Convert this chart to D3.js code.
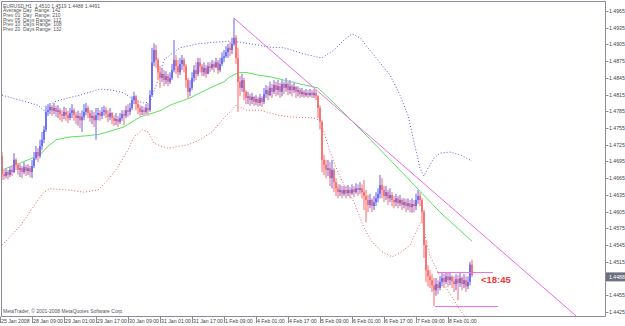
<!DOCTYPE html>
<html><head><meta charset="utf-8">
<script src="https://cdn.jsdelivr.net/npm/d3@7/dist/d3.min.js"></script>
<style>body{margin:0;background:#fff}svg{display:block}text{font-family:"Liberation Sans",Arial,sans-serif;white-space:pre}</style>
</head><body><svg id="c" width="625" height="326"></svg>
<script>
// ---------------- DATA ----------------
const symbolHeader = "EURUSD,H1  1.4510 1.4519 1.4488 1.4491";
const infoLines = ["Average Day  Range: 142","Prev 01  Day  Range: 210","Prev 05  Days Range: 112","Prev 10  Days Range: 108","Prev 20  Days Range: 132"];
const copyright = "MetaTrader, \u00A9 2001-2008 MetaQuotes Software Corp.";
const firstOpen = 1.4705;
const closes = [
1.4672,1.4669,1.4676,1.4671,1.4680,1.4676,1.4698,1.4689,1.4680,1.4683,
1.4676,1.4685,1.4678,1.4683,1.4676,1.4687,1.4701,1.4712,1.4705,1.4723,
1.4734,1.4752,1.4784,1.4787,1.4793,1.4786,1.4791,1.4784,1.4787,1.4780,
1.4777,1.4784,1.4778,1.4773,1.4782,1.4787,1.4778,1.4773,1.4777,1.4769,
1.4775,1.4784,1.4791,1.4782,1.4773,1.4777,1.4769,1.4778,1.4782,1.4777,
1.4784,1.4787,1.4780,1.4775,1.4782,1.4773,1.4768,1.4771,1.4766,1.4773,
1.4780,1.4777,1.4787,1.4784,1.4791,1.4805,1.4812,1.4798,1.4791,1.4784,
1.4787,1.4784,1.4791,1.4787,1.4814,1.4873,1.4895,1.4877,1.4855,1.4845,
1.4852,1.4841,1.4848,1.4838,1.4845,1.4859,1.4877,1.4866,1.4855,1.4870,
1.4877,1.4866,1.4841,1.4820,1.4827,1.4845,1.4859,1.4852,1.4873,1.4866,
1.4855,1.4863,1.4852,1.4866,1.4863,1.4870,1.4864,1.4873,1.4859,1.4870,
1.4881,1.4884,1.4891,1.4899,1.4895,1.4906,1.4917,1.4881,1.4838,1.4827,
1.4841,1.4820,1.4809,1.4812,1.4805,1.4811,1.4802,1.4807,1.4800,1.4809,
1.4802,1.4816,1.4823,1.4814,1.4827,1.4820,1.4832,1.4823,1.4830,1.4820,
1.4834,1.4827,1.4834,1.4823,1.4830,1.4823,1.4829,1.4820,1.4823,1.4816,
1.4820,1.4814,1.4818,1.4814,1.4818,1.4814,1.4818,1.4812,1.4791,1.4766,
1.4698,1.4689,1.4680,1.4683,1.4665,1.4680,1.4658,1.4647,1.4640,1.4644,
1.4637,1.4644,1.4638,1.4644,1.4638,1.4645,1.4640,1.4647,1.4644,1.4647,
1.4640,1.4633,1.4626,1.4617,1.4626,1.4615,1.4622,1.4629,1.4637,1.4653,
1.4644,1.4633,1.4640,1.4629,1.4635,1.4626,1.4622,1.4629,1.4620,1.4626,
1.4617,1.4622,1.4615,1.4620,1.4613,1.4619,1.4615,1.4626,1.4633,1.4626,
1.4604,1.4545,1.4500,1.4489,1.4482,1.4473,1.4464,1.4475,1.4468,1.4479,
1.4486,1.4479,1.4489,1.4482,1.4488,1.4480,1.4475,1.4484,1.4477,1.4486,
1.4475,1.4482,1.4471,1.4479,1.4510,1.4491];
const highs = [
1.4712,1.4680,1.4683,1.4680,1.4687,1.4689,1.4710,1.4701,1.4692,1.4690,
1.4687,1.4694,1.4689,1.4690,1.4687,1.4698,1.4712,1.4723,1.4719,1.4734,
1.4748,1.4759,1.4795,1.4798,1.4800,1.4796,1.4800,1.4795,1.4796,1.4791,
1.4787,1.4793,1.4791,1.4786,1.4791,1.4798,1.4791,1.4784,1.4786,1.4782,
1.4787,1.4798,1.4800,1.4795,1.4787,1.4787,1.4784,1.4791,1.4791,1.4787,
1.4793,1.4795,1.4793,1.4787,1.4791,1.4784,1.4778,1.4782,1.4777,1.4782,
1.4787,1.4787,1.4795,1.4798,1.4800,1.4812,1.4820,1.4814,1.4805,1.4796,
1.4795,1.4793,1.4798,1.4800,1.4823,1.4899,1.4907,1.4904,1.4881,1.4866,
1.4863,1.4859,1.4857,1.4852,1.4855,1.4870,1.4913,1.4886,1.4877,1.4881,
1.4886,1.4881,1.4870,1.4845,1.4841,1.4855,1.4868,1.4873,1.4881,1.4881,
1.4870,1.4873,1.4868,1.4873,1.4873,1.4877,1.4875,1.4881,1.4877,1.4881,
1.4891,1.4895,1.4902,1.4906,1.4909,1.4917,1.4952,1.4922,1.4899,1.4848,
1.4852,1.4845,1.4823,1.4820,1.4816,1.4818,1.4812,1.4814,1.4811,1.4816,
1.4812,1.4827,1.4832,1.4830,1.4838,1.4834,1.4841,1.4838,1.4841,1.4836,
1.4841,1.4838,1.4845,1.4838,1.4841,1.4834,1.4838,1.4830,1.4830,1.4827,
1.4827,1.4823,1.4825,1.4823,1.4825,1.4823,1.4825,1.4823,1.4814,1.4796,
1.4769,1.4707,1.4698,1.4698,1.4694,1.4698,1.4683,1.4665,1.4654,1.4654,
1.4651,1.4651,1.4651,1.4653,1.4649,1.4654,1.4651,1.4656,1.4654,1.4658,
1.4654,1.4662,1.4644,1.4635,1.4637,1.4629,1.4633,1.4640,1.4647,1.4671,
1.4665,1.4651,1.4651,1.4644,1.4647,1.4640,1.4633,1.4637,1.4633,1.4635,
1.4629,1.4629,1.4628,1.4629,1.4626,1.4629,1.4626,1.4637,1.4644,1.4640,
1.4629,1.4608,1.4554,1.4509,1.4500,1.4493,1.4486,1.4486,1.4482,1.4489,
1.4497,1.4493,1.4497,1.4495,1.4497,1.4491,1.4489,1.4493,1.4491,1.4497,
1.4489,1.4493,1.4489,1.4489,1.4515,1.4519];
const lows = [
1.4662,1.4662,1.4665,1.4663,1.4667,1.4669,1.4674,1.4680,1.4671,1.4667,
1.4665,1.4672,1.4669,1.4671,1.4667,1.4665,1.4683,1.4698,1.4694,1.4701,
1.4716,1.4728,1.4748,1.4777,1.4780,1.4777,1.4780,1.4775,1.4773,1.4769,
1.4766,1.4771,1.4768,1.4764,1.4769,1.4773,1.4768,1.4762,1.4759,1.4755,
1.4748,1.4769,1.4778,1.4773,1.4766,1.4762,1.4757,1.4734,1.4769,1.4768,
1.4771,1.4777,1.4773,1.4766,1.4769,1.4762,1.4759,1.4760,1.4757,1.4762,
1.4768,1.4760,1.4773,1.4775,1.4778,1.4787,1.4798,1.4787,1.4780,1.4777,
1.4778,1.4777,1.4780,1.4777,1.4784,1.4811,1.4866,1.4863,1.4841,1.4827,
1.4838,1.4830,1.4834,1.4830,1.4834,1.4841,1.4855,1.4852,1.4845,1.4850,
1.4859,1.4855,1.4827,1.4809,1.4812,1.4823,1.4838,1.4841,1.4848,1.4855,
1.4848,1.4848,1.4845,1.4852,1.4855,1.4859,1.4855,1.4863,1.4852,1.4855,
1.4866,1.4873,1.4881,1.4881,1.4884,1.4888,1.4902,1.4870,1.4784,1.4812,
1.4820,1.4805,1.4798,1.4798,1.4795,1.4798,1.4795,1.4796,1.4793,1.4795,
1.4793,1.4798,1.4809,1.4805,1.4812,1.4809,1.4816,1.4812,1.4814,1.4809,
1.4812,1.4816,1.4820,1.4814,1.4816,1.4812,1.4818,1.4809,1.4812,1.4809,
1.4811,1.4809,1.4811,1.4809,1.4811,1.4809,1.4809,1.4805,1.4773,1.4752,
1.4676,1.4671,1.4665,1.4669,1.4651,1.4647,1.4640,1.4633,1.4629,1.4633,
1.4629,1.4633,1.4629,1.4633,1.4629,1.4635,1.4631,1.4637,1.4633,1.4637,
1.4629,1.4608,1.4586,1.4604,1.4611,1.4604,1.4608,1.4615,1.4622,1.4629,
1.4629,1.4622,1.4626,1.4617,1.4622,1.4615,1.4611,1.4615,1.4611,1.4615,
1.4608,1.4611,1.4604,1.4608,1.4604,1.4603,1.4604,1.4608,1.4619,1.4615,
1.4586,1.4522,1.4479,1.4471,1.4468,1.4461,1.4436,1.4454,1.4457,1.4464,
1.4471,1.4468,1.4475,1.4470,1.4473,1.4468,1.4461,1.4464,1.4446,1.4470,
1.4464,1.4468,1.4461,1.4466,1.4473,1.4488];
const maBars   = [0,9,19,22,27,34,42,49,61,69,79,84,94,104,111,114,118,122,128,134,141,149,158,168,181,194,206,219,235];
const maValues = [1.4680,1.4692,1.4707,1.4719,1.4734,1.4739,1.4741,1.4744,1.4757,1.4775,1.4786,1.4796,1.4809,1.4827,1.4838,1.4847,1.4854,1.4855,1.4850,1.4847,1.4841,1.4834,1.4827,1.4793,1.4746,1.4698,1.4653,1.4604,1.4552];
// upper band (blue dotted)
const upperBars   = [0,9,18,21,23,26,33,39,49,55,61,66,71,74,78,81,84,89,98,106,114,119,128,134,141,149,158,160,166,171,175,179,183,188,194,199,203,206,209,211,213,216,219,224,229,235];
const upperValues = [1.4814,1.4805,1.4796,1.4786,1.4793,1.4802,1.4809,1.4814,1.4825,1.4823,1.4818,1.4805,1.4800,1.4802,1.4841,1.4877,1.4886,1.4899,1.4906,1.4909,1.4911,1.4909,1.4904,1.4900,1.4899,1.4890,1.4882,1.4881,1.4895,1.4913,1.4924,1.4917,1.4899,1.4877,1.4850,1.4814,1.4778,1.4730,1.4683,1.4669,1.4683,1.4701,1.4710,1.4712,1.4707,1.4696];
// lower band (red dotted)
const lowerBars   = [0,9,18,21,24,33,41,48,53,58,63,66,70,73,76,79,83,93,99,105,110,114,117,119,122,129,138,144,156,159,161,164,168,171,176,181,185,190,195,199,204,208,210,212,214,217,221,226,229,232];
const lowerValues = [1.4545,1.4579,1.4626,1.4640,1.4646,1.4644,1.4640,1.4644,1.4662,1.4685,1.4716,1.4739,1.4752,1.4748,1.4728,1.4723,1.4719,1.4725,1.4734,1.4748,1.4769,1.4784,1.4796,1.4793,1.4787,1.4787,1.4778,1.4775,1.4773,1.4769,1.4748,1.4712,1.4676,1.4653,1.4622,1.4576,1.4551,1.4533,1.4524,1.4531,1.4545,1.4576,1.4590,1.4554,1.4525,1.4504,1.4475,1.4446,1.4429,1.4414];
// trend line and horizontal levels [bar, price]
const trendStart = [116, 1.4952];
const trendEnd   = [287, 1.4418];
const levelHigh  = [217.5, 245.5, 1.4497];
const levelLow   = [216.5, 248, 1.4436];
const bidPrice = 1.4488;
const bidLabel = "1.4488";
const countdown = "<18:45";
// axes
const yTickValues = d3.range(19).map(k => +(1.4965 - k*0.003).toFixed(4));
const xLabelBars = [0,16,32,48,64,80,96,112,128,144,160,176,192,208,224];
const xLabels = ["25 Jan 2008","28 Jan 09:00","29 Jan 01:00","29 Jan 17:00","30 Jan 09:00","31 Jan 01:00","31 Jan 17:00","1 Feb 09:00","4 Feb 01:00","4 Feb 17:00","5 Feb 09:00","6 Feb 01:00","6 Feb 17:00","7 Feb 09:00","8 Feb 01:00"];

// ---------------- DRAW ----------------
const svg = d3.select("#c");
const P = {l:1.5, r:605.5, t:1.5, b:316.5};
const x = d3.scaleLinear().domain([0, 100]).range([2, 202]);
const y = d3.scaleLinear().domain([1.4425, 1.4965]).range([312, 11]);

svg.append("rect").attr("width",625).attr("height",326).attr("fill","#fff");
svg.append("defs").append("clipPath").attr("id","clip")
  .append("rect").attr("x",P.l).attr("y",P.t).attr("width",P.r-P.l).attr("height",P.b-P.t);
const g = svg.append("g").attr("clip-path","url(#clip)");

// bands & MA
const lineGen = (bars, vals) => d3.line().x((d,i)=>x(bars[i])).y(d=>y(d))(vals);
g.append("path").attr("d",lineGen(upperBars,upperValues)).attr("fill","none")
  .attr("stroke","#5a5ae0").attr("stroke-width",1).attr("stroke-dasharray","1 2");
g.append("path").attr("d",lineGen(lowerBars,lowerValues)).attr("fill","none")
  .attr("stroke","#f06060").attr("stroke-width",1).attr("stroke-dasharray","1 2");
g.append("path").attr("d",lineGen(maBars,maValues)).attr("fill","none")
  .attr("stroke","#5ee05e").attr("stroke-width",1);

// candles
const bars = closes.map((c,i)=>{
  const o = i ? closes[i-1] : firstOpen;
  return {i, o, c, h: Math.max(highs[i],o,c), l: Math.min(lows[i],o,c)};
});
const cg = g.append("g");
cg.selectAll("rect.w").data(bars).join("rect")
  .attr("x",d=>x(d.i)-0.9).attr("width",1.8)
  .attr("y",d=>y(d.h)).attr("height",d=>Math.max(1,y(d.l)-y(d.h)))
  .attr("fill",d=>d.c>=d.o?"#a8a8fa":"#fcaaaa");
cg.selectAll("rect.b").data(bars).join("rect")
  .attr("x",d=>x(d.i)-0.6).attr("width",1.2)
  .attr("y",d=>y(Math.max(d.o,d.c))).attr("height",d=>Math.max(1.2,Math.abs(y(d.o)-y(d.c))))
  .attr("fill",d=>d.c>=d.o?"#4646f2":"#f44e4e");

// trend line & levels
g.append("line").attr("x1",x(trendStart[0])).attr("y1",y(trendStart[1]))
  .attr("x2",x(trendEnd[0])).attr("y2",y(trendEnd[1]))
  .attr("stroke","#ee6aee").attr("stroke-width",1);
[levelHigh, levelLow].forEach(L=>{
  g.append("line").attr("x1",x(L[0])).attr("x2",x(L[1]))
   .attr("y1",Math.round(y(L[2]))+0.5).attr("y2",Math.round(y(L[2]))+0.5)
   .attr("stroke","#f070f0").attr("stroke-width",1);
});

// countdown
const last = closes.length-1;
g.append("text").attr("x",x(last)+9).attr("y",y(closes[last])+8)
  .attr("font-size",9.5).attr("font-weight","bold").attr("fill","#f23a3a").text(countdown);

// frame
svg.append("path").attr("d",`M${P.l},${P.b}V${P.t}H${P.r}V${P.b}H${P.l}`)
  .attr("fill","none").attr("stroke","#8c8c98").attr("stroke-width",1);

// y axis ticks/labels (a label hidden behind the bid box is not drawn)
const ya = svg.append("g");
const by = y(bidPrice);
yTickValues.forEach(v=>{
  const yy = Math.round(y(v))+0.5;
  ya.append("line").attr("x1",P.r).attr("x2",P.r+3).attr("y1",yy).attr("y2",yy).attr("stroke","#8c8c98");
  if (Math.abs(yy - by) > 7)
    ya.append("text").attr("x",609).attr("y",yy+1.8).attr("font-size",5.2).attr("fill","#444").text(v.toFixed(4));
});
// bid box
ya.append("rect").attr("x",606).attr("y",by-4.5).attr("width",19).attr("height",9).attr("fill","#6c7080");
ya.append("text").attr("x",609).attr("y",by+1.8).attr("font-size",5.2).attr("fill","#fff").text(bidLabel);

// x axis labels
const xa = svg.append("g");
xLabelBars.forEach((b,k)=>{
  const xx = Math.round(x(b)-2.5)+0.5;
  xa.append("line").attr("x1",xx).attr("x2",xx).attr("y1",P.b).attr("y2",323).attr("stroke","#8c8c98");
  xa.append("text").attr("x",x(b)-1).attr("y",323.3).attr("font-size",5.2).attr("fill","#444").text(xLabels[k]);
});

// header text
const ht = svg.append("g");
ht.append("text").attr("x",3).attr("y",7.5).attr("font-size",5).attr("fill","#555").text(symbolHeader);
infoLines.forEach((t,k)=>ht.append("text").attr("x",3).attr("y",12.2+k*4.7).attr("font-size",5).attr("fill","#555").text(t));
ht.append("text").attr("x",3).attr("y",313).attr("font-size",5).attr("fill","#555").text(copyright);
</script></body></html>
